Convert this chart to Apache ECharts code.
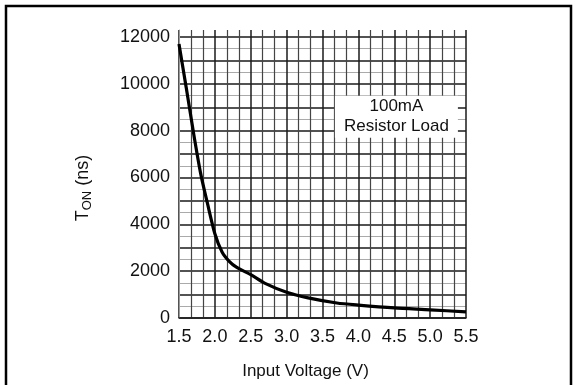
<!DOCTYPE html>
<html>
<head>
<meta charset="utf-8">
<script src="https://cdn.jsdelivr.net/npm/echarts@6/dist/echarts.min.js"></script>
<style>
html,body{margin:0;padding:0;background:#fff;}
#c{width:576px;height:385px;}
</style>
</head>
<body>
<div id="c"></div>
<script>
// Input voltage (V) and turn-on time (ns)
var voltage = [1.5, 1.6, 1.7, 1.8, 1.9, 2.0, 2.1, 2.2, 2.3, 2.5, 2.7, 3.0, 3.3, 3.7, 4.0, 4.5, 5.0, 5.5];
var tOn     = [11700, 9850, 7950, 6200, 4850, 3600, 2820, 2420, 2170, 1850, 1480, 1100, 860, 640, 550, 430, 350, 260];
var xTicks = [1.5, 2.0, 2.5, 3.0, 3.5, 4.0, 4.5, 5.0, 5.5];
var yTicks = [0, 2000, 4000, 6000, 8000, 10000, 12000];
var noteText = ['100mA', 'Resistor Load'];
var notePos = [4.53, 8600];

var FONT = '"Liberation Sans", Arial, sans-serif';
var pts = voltage.map(function (v, i) { return [v, tOn[i]]; });

// split line colours: one per tick 0..12000 plus extent end 12300 (no line at top)
var ySplitColors = [];
for (var i = 0; i <= 12; i++) ySplitColors.push('#1a1a1a');
ySplitColors.push('rgba(0,0,0,0)');

var chart = echarts.init(document.getElementById('c'), null, {renderer: 'canvas'});
chart.setOption({
  animation: false,
  backgroundColor: '#fff',
  textStyle: {fontFamily: FONT},
  grid: {left: 179, right: 110, top: 30, bottom: 64, containLabel: false},
  xAxis: {
    type: 'value', min: 1.5, max: 5.5, interval: 0.5,
    name: 'Input Voltage (V)', nameLocation: 'middle', nameGap: 45,
    nameTextStyle: {fontSize: 17, color: '#111', fontFamily: FONT, padding: [0, 34, 0, 0]},
    axisLine: {show: true, lineStyle: {color: '#1a1a1a', width: 1.5}},
    axisTick: {show: false},
    axisLabel: {
      fontSize: 18, color: '#111', margin: 10, fontFamily: FONT,
      formatter: function (v) {
        for (var k = 0; k < xTicks.length; k++) if (Math.abs(xTicks[k] - v) < 1e-6) return xTicks[k].toFixed(1);
        return '';
      }
    },
    splitLine: {show: true, lineStyle: {color: '#1a1a1a', width: 1.5}},
    minorTick: {show: false, splitNumber: 3},
    minorSplitLine: {show: true, lineStyle: {color: '#444', width: 1.2}}
  },
  yAxis: {
    type: 'value', min: 0, max: 12300, interval: 1000,
    name: '{a|T}{b|ON}{a| (ns)}', nameLocation: 'middle', nameGap: 85, nameRotate: 90,
    nameTextStyle: {
      color: '#111', fontFamily: FONT, padding: [0, 28, 0, 0],
      rich: {
        a: {fontSize: 18, color: '#111', fontFamily: FONT, lineHeight: 22},
        b: {fontSize: 13, color: '#111', fontFamily: FONT, lineHeight: 22, verticalAlign: 'bottom', padding: [6, 0, 0, 0]}
      }
    },
    axisLine: {show: true, lineStyle: {color: '#999', width: 1}},
    axisTick: {show: false},
    axisLabel: {
      fontSize: 18, color: '#111', margin: 9, fontFamily: FONT,
      formatter: function (v) { return yTicks.indexOf(v) >= 0 ? String(v) : ''; }
    },
    splitLine: {show: true, lineStyle: {color: ySplitColors, width: 1.5}},
    minorTick: {show: false, splitNumber: 2},
    minorSplitLine: {show: true, lineStyle: {color: '#aaa', width: 1}}
  },
  series: [{
    type: 'line',
    data: pts,
    smooth: 0.25,
    showSymbol: false,
    symbol: 'none',
    lineStyle: {color: '#000', width: 3.2},
    z: 3,
    markPoint: {
      silent: true,
      symbol: 'rect',
      symbolSize: [123, 42],
      itemStyle: {color: '#fff'},
      label: {
        show: true, position: 'inside', color: '#111', fontSize: 17, lineHeight: 20, fontFamily: FONT,
        formatter: noteText.join('\n')
      },
      data: [{coord: notePos}]
    }
  }],
  graphic: [{
    type: 'rect', silent: true, z: 100,
    shape: {x: 6, y: 6, width: 565, height: 420},
    style: {fill: null, stroke: '#000', lineWidth: 2.5}
  }]
});
</script>
</body>
</html>
